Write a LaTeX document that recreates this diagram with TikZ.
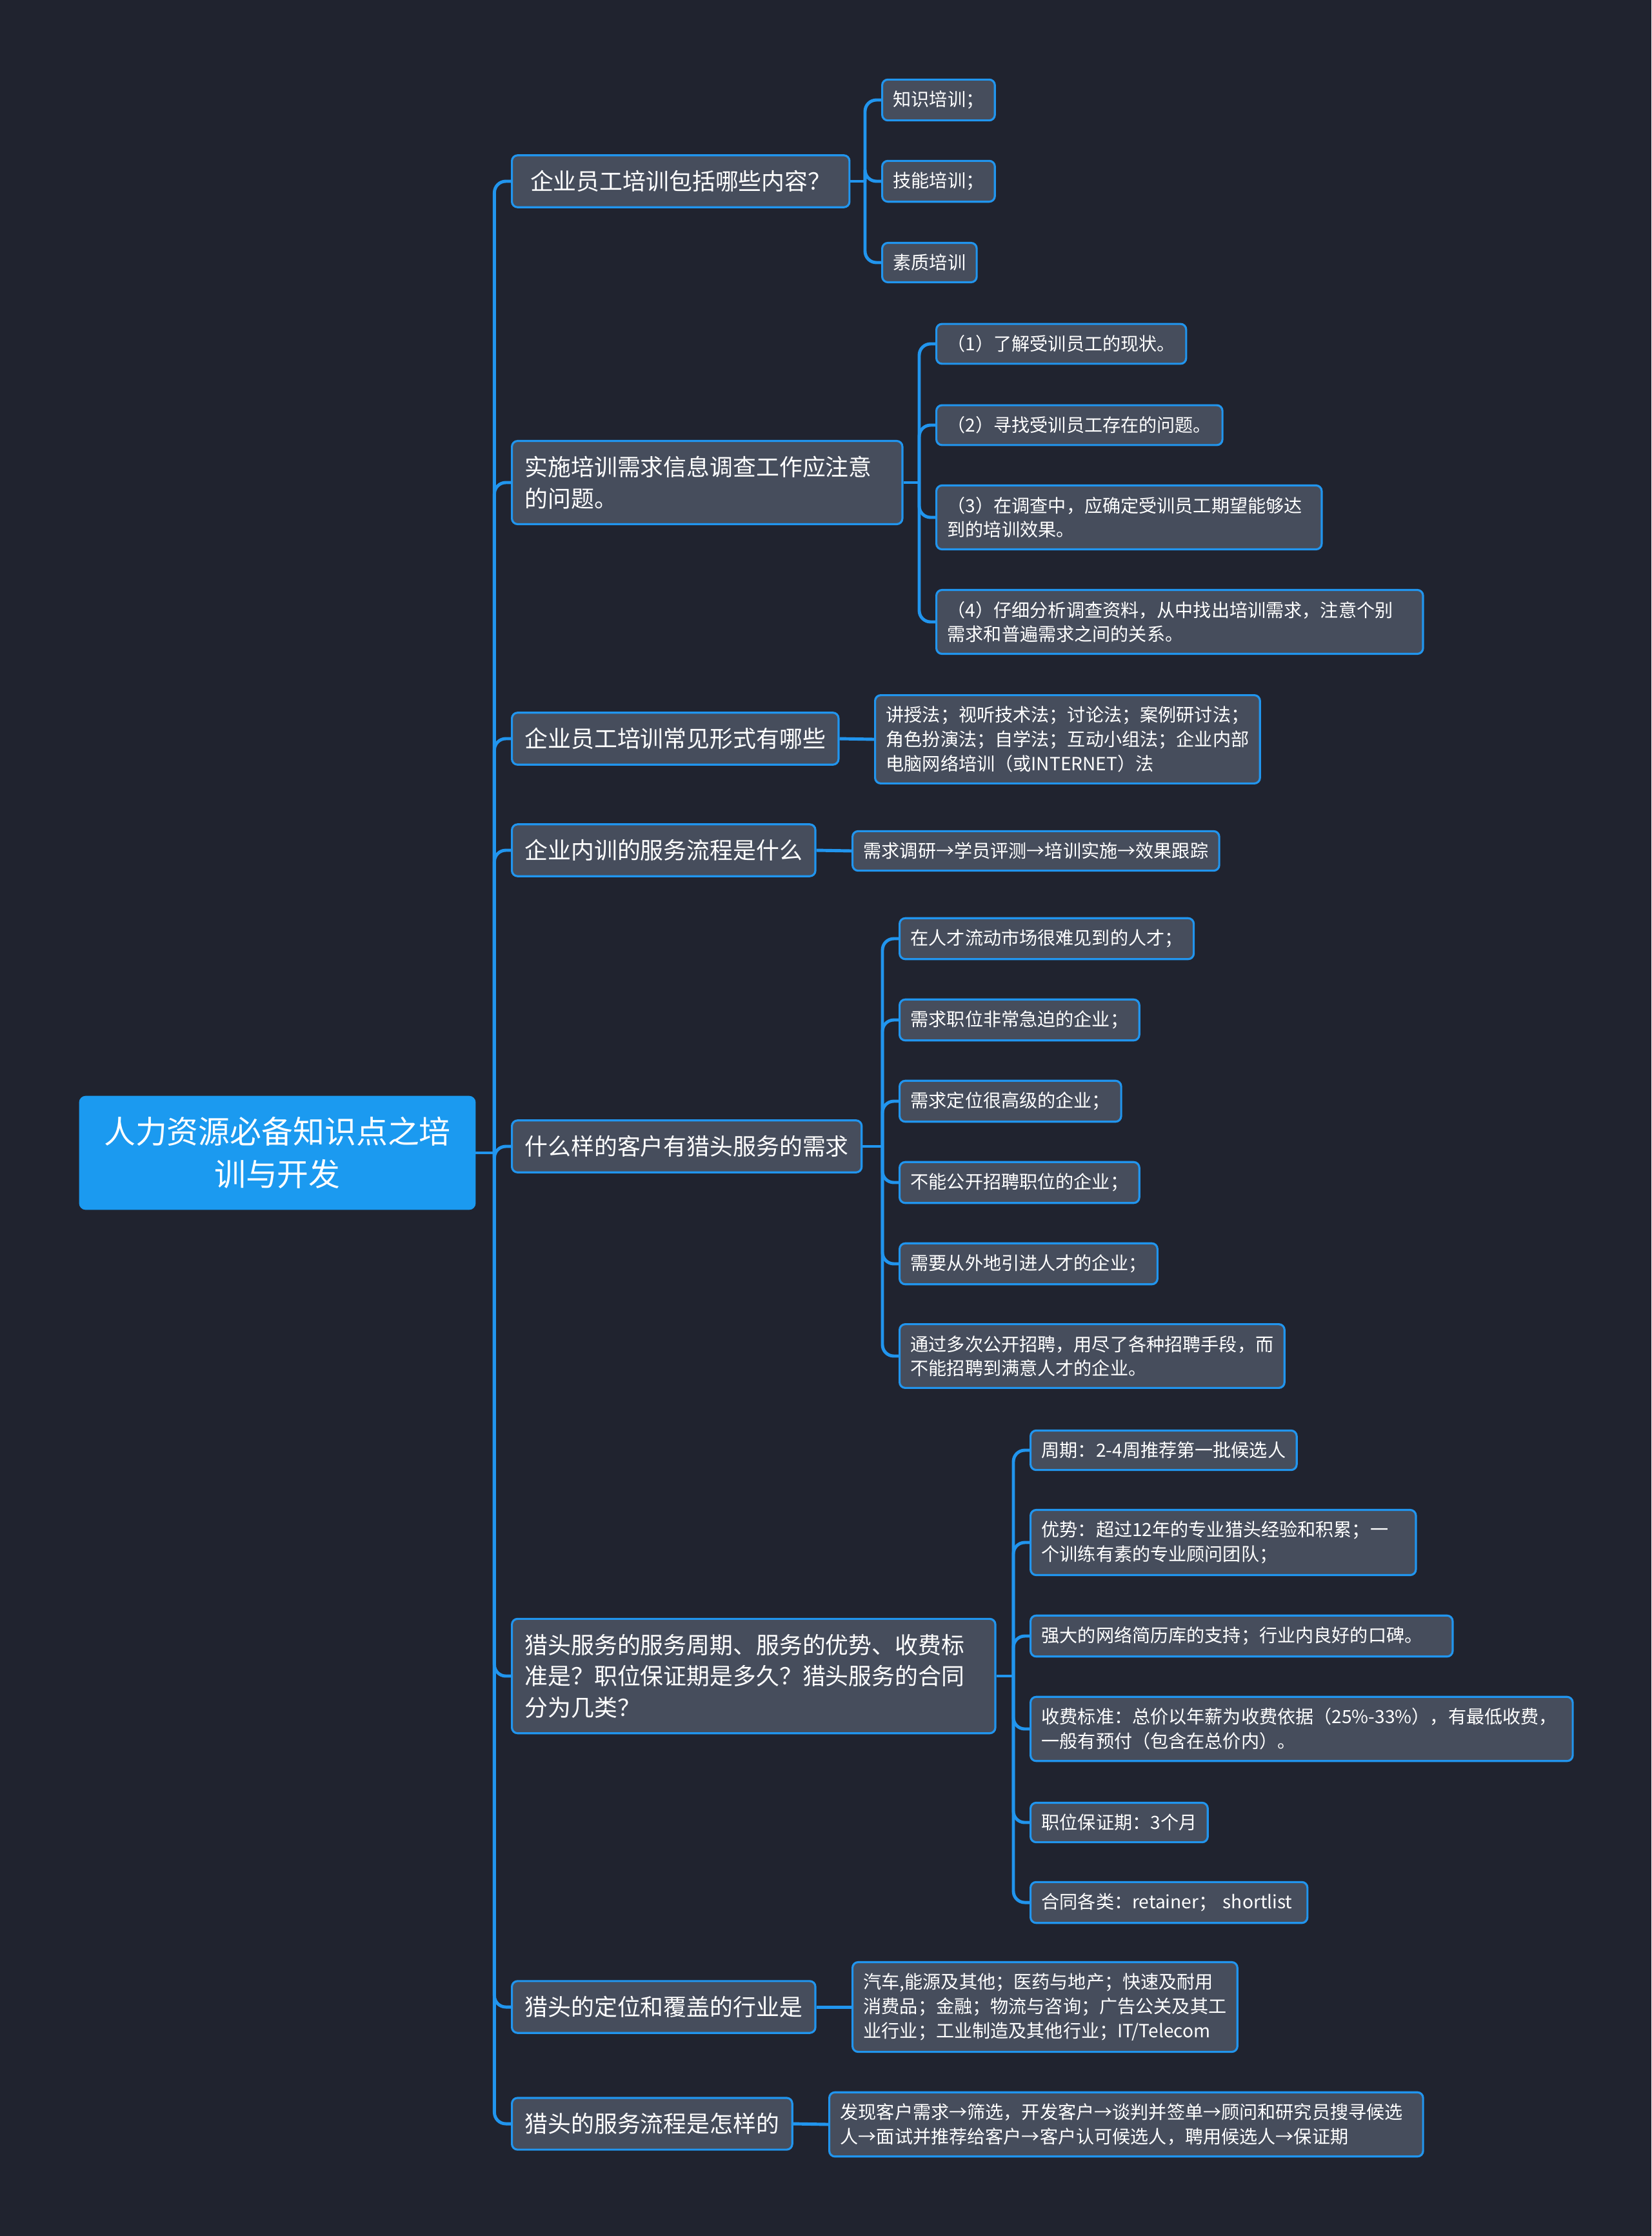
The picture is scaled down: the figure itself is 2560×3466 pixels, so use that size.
\documentclass[tikz,border=0pt]{standalone}
\usepackage{fontspec}
\setmainfont{Noto Sans CJK SC}
\usetikzlibrary{calc}

\begin{document}
\begin{tikzpicture}[x=0.01cm, y=-0.01cm,
    topic/.style={draw=lineColour, line width=0.9pt, fill=boxColour, rounded corners=2.5pt,
        text=white, align=left, anchor=west, inner xsep=0.2cm, inner ysep=0.235cm,
        font=\fontsize{10.2pt}{13.8pt}\selectfont},
    leaf/.style={topic, inner xsep=0.17cm, inner ysep=0.175cm,
        font=\fontsize{8pt}{10.7pt}\selectfont},
    link/.style={draw=lineColour, line width=1.4pt, rounded corners=5pt}]

    \definecolor{bgColour}{HTML}{20232F}
    \definecolor{boxColour}{HTML}{464D5C}
    \definecolor{lineColour}{HTML}{2195EE}
    \definecolor{rootColour}{HTML}{1B9AF0}

    % Background and page size
    \fill[bgColour] (0,0) rectangle (2560,3466);
    \useasboundingbox (0,0) rectangle (2560,3466);

    % Root topic
    \node[topic, anchor=center, fill=rootColour, draw=rootColour, align=center,
        inner xsep=0.37cm, inner ysep=0.31cm, font=\fontsize{13.9pt}{18.8pt}\selectfont]
        (root) at (430,1787) {人力资源必备知识点之培\\训与开发};

    % Main branches
    \node[topic, text width=4.83cm, align=center] (b1) at (792,281) {企业员工培训包括哪些内容？};
    \node[topic, text width=5.65cm] (b2) at (792,748) {实施培训需求信息调查工作应注意\\的问题。};
    \node[topic] (b3) at (792,1145) {企业员工培训常见形式有哪些};
    \node[topic] (b4) at (792,1318) {企业内训的服务流程是什么};
    \node[topic] (b5) at (792,1777) {什么样的客户有猎头服务的需求};
    \node[topic, text width=7.09cm] (b6) at (792,2598) {猎头服务的服务周期、服务的优势、收费标\\准是？职位保证期是多久？猎头服务的合同\\分为几类？};
    \node[topic] (b7) at (792,3111) {猎头的定位和覆盖的行业是};
    \node[topic] (b8) at (792,3292) {猎头的服务流程是怎样的};

    % Trunk from root to main branches
    \coordinate (trunk) at ($(root.east)+(29,0)$);
    \draw[link] (root.east) -- (trunk);
    \foreach \n in {b1,b2,b3,b4,b5,b6,b7,b8}
        \draw[link] (trunk) |- (\n.west);

    % Branch 1
    \foreach \n/\y/\t in {c11/155/知识培训；, c12/281/技能培训；, c13/407/素质培训}
        \node[leaf] (\n) at (1366,\y) {\t};
    \coordinate (j1) at ($(b1.east -| c11.west)+(-25,0)$);
    \draw[link] (b1.east) -- (j1);
    \foreach \n in {c11,c12,c13}
        \draw[link] (j1) |- (\n.west);

    % Branch 2
    \node[leaf] (c21) at (1450,533) {（1）了解受训员工的现状。};
    \node[leaf] (c22) at (1450,659) {（2）寻找受训员工存在的问题。};
    \node[leaf, text width=5.63cm] (c23) at (1450,802) {（3）在调查中，应确定受训员工期望能够达\\到的培训效果。};
    \node[leaf, text width=7.2cm] (c24) at (1450,964) {（4）仔细分析调查资料，从中找出培训需求，注意个别\\需求和普遍需求之间的关系。};
    \coordinate (j2) at ($(b2.east -| c21.west)+(-25,0)$);
    \draw[link] (b2.east) -- (j2);
    \foreach \n in {c21,c22,c23,c24}
        \draw[link] (j2) |- (\n.west);

    % Branch 3 and 4
    \node[leaf] (c31) at (1355,1146) {讲授法；视听技术法；讨论法；案例研讨法；\\角色扮演法；自学法；互动小组法；企业内部\\电脑网络培训（或INTERNET）法};
    \draw[link] (b3.east) -- (c31.west);
    \node[leaf] (c41) at (1320,1319) {需求调研→学员评测→培训实施→效果跟踪};
    \draw[link] (b4.east) -- (c41.west);

    % Branch 5
    \foreach \n/\y/\t in {c51/1455/在人才流动市场很难见到的人才；, c52/1581/需求职位非常急迫的企业；,
        c53/1707/需求定位很高级的企业；, c54/1833/不能公开招聘职位的企业；,
        c55/1959/需要从外地引进人才的企业；}
        \node[leaf] (\n) at (1393,\y) {\t};
    \node[leaf] (c56) at (1393,2102) {通过多次公开招聘，用尽了各种招聘手段，而\\不能招聘到满意人才的企业。};
    \coordinate (j5) at ($(b5.east -| c51.west)+(-25,0)$);
    \draw[link] (b5.east) -- (j5);
    \foreach \n in {c51,c52,c53,c54,c55,c56}
        \draw[link] (j5) |- (\n.west);

    % Branch 6
    \node[leaf] (c61) at (1596,2248) {周期：2-4周推荐第一批候选人};
    \node[leaf, text width=5.63cm] (c62) at (1596,2391) {优势：超过12年的专业猎头经验和积累；一\\个训练有素的专业顾问团队；};
    \node[leaf, text width=6.2cm] (c63) at (1596,2536) {强大的网络简历库的支持；行业内良好的口碑。};
    \node[leaf, text width=8.06cm] (c64) at (1596,2680) {收费标准：总价以年薪为收费依据（25\%-33\%），有最低收费，\\一般有预付（包含在总价内）。};
    \node[leaf] (c65) at (1596,2825) {职位保证期：3个月};
    \node[leaf, text width=3.95cm] (c66) at (1596,2949) {合同各类：retainer； shortlist};
    \coordinate (j6) at ($(b6.east -| c61.west)+(-25,0)$);
    \draw[link] (b6.east) -- (j6);
    \foreach \n in {c61,c62,c63,c64,c65,c66}
        \draw[link] (j6) |- (\n.west);

    % Branch 7 and 8
    \node[leaf] (c71) at (1320,3111) {汽车,能源及其他；医药与地产；快速及耐用\\消费品；金融；物流与咨询；广告公关及其工\\业行业；工业制造及其他行业；IT/Telecom};
    \draw[link] (b7.east) -- (c71.west);
    \node[leaf, text width=8.86cm] (c81) at (1284,3293) {发现客户需求→筛选，开发客户→谈判并签单→顾问和研究员搜寻候选\\人→面试并推荐给客户→客户认可候选人，聘用候选人→保证期};
    \draw[link] (b8.east) -- (c81.west);

\end{tikzpicture}
\end{document}
